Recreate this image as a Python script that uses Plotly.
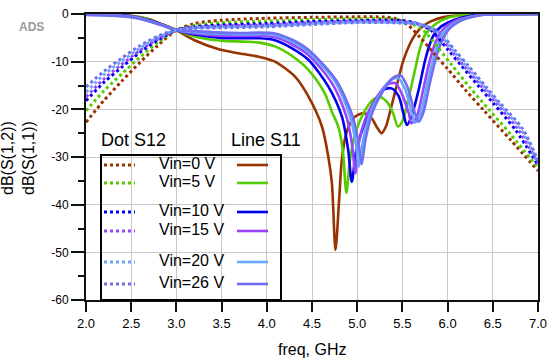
import plotly.graph_objects as go

# ---------------- data ----------------
vin_labels = ["Vin=0 V", "Vin=5 V", "Vin=10 V", "Vin=15 V", "Vin=20 V", "Vin=26 V"]
colors = ["#993300", "#55CC00", "#0000EE", "#9944FF", "#66A6FF", "#6F6FF0"]

# S11 (solid lines), dB
s11_f_0 = [2.0, 2.3, 2.5, 2.7, 2.85, 3.0, 3.2, 3.47, 3.7, 3.92, 4.09, 4.31, 4.46, 4.61, 4.68, 4.72, 4.76, 4.8, 4.83, 4.88, 4.96, 5.07, 5.16, 5.22, 5.27, 5.32, 5.37, 5.44, 5.51, 5.58, 5.65, 5.73, 5.82, 5.97, 6.2, 6.5, 7.0]
s11_db_0 = [0, -0.1, -0.35, -1.1, -2.2, -3.4, -5.5, -7.4, -8.3, -9.0, -10.0, -13.1, -17.3, -23.6, -29.9, -35.5, -49.5, -39, -30.6, -25, -21.8, -20.8, -21.9, -23.8, -25, -23.5, -20, -14.8, -9.8, -6.4, -4.1, -2.5, -1.5, -0.6, -0.2, -0.05, 0]

s11_f_5 = [2.0, 2.3, 2.5, 2.7, 2.85, 3.0, 3.2, 3.5, 3.75, 3.92, 4.09, 4.28, 4.46, 4.64, 4.72, 4.79, 4.84, 4.88, 4.92, 4.98, 5.07, 5.17, 5.25, 5.34, 5.4, 5.45, 5.5, 5.57, 5.64, 5.69, 5.75, 5.86, 6.0, 6.2, 6.5, 7.0]
s11_db_5 = [-0.05, -0.15, -0.45, -1.2, -2.3, -3.4, -4.7, -5.6, -5.8, -6.0, -6.8, -8.8, -11.7, -16.6, -20.5, -23.6, -28.5, -37.5, -30.6, -25, -20.8, -18.1, -17.4, -18.7, -21, -23.6, -22.5, -17.5, -11.7, -7.5, -4.4, -2.2, -0.8, -0.2, -0.05, 0]

s11_f_10 = [2.0, 2.3, 2.5, 2.7, 2.85, 3.0, 3.2, 3.5, 3.75, 3.92, 4.09, 4.28, 4.46, 4.68, 4.83, 4.9, 4.94, 4.99, 5.07, 5.18, 5.29, 5.38, 5.46, 5.51, 5.55, 5.6, 5.68, 5.75, 5.8, 5.85, 5.93, 6.08, 6.27, 6.5, 7.0]
s11_db_10 = [-0.1, -0.2, -0.5, -1.3, -2.3, -3.4, -4.3, -5.0, -5.1, -5.1, -5.5, -7.2, -9.6, -15.2, -21.5, -28.5, -35.2, -28.5, -23.6, -18.7, -15.9, -15.6, -17.3, -20.8, -23.3, -21.5, -15.9, -9.8, -6.5, -4.3, -2.6, -1.2, -0.3, -0.05, 0]

s11_f_15 = [2.0, 2.3, 2.5, 2.7, 2.85, 3.0, 3.2, 3.5, 3.75, 3.92, 4.09, 4.28, 4.46, 4.72, 4.88, 4.94, 4.98, 5.01, 5.1, 5.21, 5.32, 5.42, 5.49, 5.57, 5.6, 5.66, 5.73, 5.8, 5.87, 5.96, 6.1, 6.3, 6.5, 7.0]
s11_db_15 = [-0.1, -0.25, -0.55, -1.4, -2.35, -3.4, -4.1, -4.6, -4.6, -4.6, -4.9, -6.4, -8.6, -14.5, -21.5, -27, -33.4, -27.8, -21.5, -17.7, -14.9, -14.5, -16.6, -20.8, -22.9, -21.5, -15.9, -10, -5.8, -3.0, -1.3, -0.35, -0.05, 0]

s11_f_20 = [2.0, 2.3, 2.5, 2.7, 2.85, 3.0, 3.2, 3.5, 3.75, 3.92, 4.09, 4.28, 4.46, 4.75, 4.92, 4.98, 5.02, 5.06, 5.14, 5.25, 5.36, 5.45, 5.53, 5.6, 5.64, 5.7, 5.77, 5.84, 5.91, 6.0, 6.14, 6.32, 6.5, 7.0]
s11_db_20 = [-0.15, -0.3, -0.6, -1.45, -2.4, -3.4, -3.8, -4.2, -4.3, -4.2, -4.4, -5.8, -8.0, -14, -21.5, -26.5, -32, -27, -21, -16.8, -14.0, -13.4, -15.8, -20.5, -22.8, -21, -15, -9.5, -5.6, -3.0, -1.3, -0.35, -0.05, 0]

s11_f_26 = [2.0, 2.3, 2.5, 2.7, 2.85, 3.0, 3.2, 3.5, 3.75, 3.92, 4.09, 4.28, 4.46, 4.77, 4.95, 5.01, 5.05, 5.09, 5.17, 5.28, 5.39, 5.48, 5.56, 5.63, 5.68, 5.73, 5.8, 5.87, 5.94, 6.03, 6.17, 6.35, 6.55, 7.0]
s11_db_26 = [-0.2, -0.35, -0.7, -1.55, -2.45, -3.4, -3.6, -3.9, -4.0, -3.9, -4.1, -5.4, -7.5, -14, -21.5, -26.5, -31.5, -26.5, -20.5, -16.3, -13.5, -12.9, -15.5, -20.3, -22.6, -20.8, -14.8, -9.3, -5.5, -2.9, -1.2, -0.3, -0.05, 0]

# S12 (dotted lines), dB
s12_f_0 = [2.0, 2.2, 2.4, 2.6, 2.8, 3.0, 3.2, 3.5, 4.0, 4.5, 5.0, 5.3, 5.43, 5.56, 5.7, 5.85, 6.0, 6.2, 6.4, 6.7, 7.0]
s12_db_0 = [-22.7, -18.1, -14.0, -10.1, -6.5, -3.4, -2.0, -1.3, -0.9, -0.7, -0.6, -0.65, -1.0, -2.3, -5.0, -8.3, -11.5, -16.0, -20.2, -26.5, -32.9]

s12_f_5 = [2.0, 2.2, 2.4, 2.6, 2.8, 3.0, 3.2, 3.5, 4.0, 4.5, 5.0, 5.4, 5.55, 5.74, 5.9, 6.05, 6.25, 6.45, 6.7, 7.0]
s12_db_5 = [-20.3, -16.1, -12.5, -9.0, -5.9, -3.4, -2.4, -1.8, -1.5, -1.2, -1.0, -1.05, -1.6, -3.6, -7.2, -10.8, -15.5, -19.9, -25.3, -32.3]

s12_f_10 = [2.0, 2.2, 2.4, 2.6, 2.8, 3.0, 3.2, 3.5, 4.0, 4.5, 5.0, 5.5, 5.65, 5.82, 6.0, 6.15, 6.35, 6.5, 6.75, 7.0]
s12_db_10 = [-18.2, -14.3, -11.1, -8.0, -5.4, -3.4, -2.7, -2.3, -2.0, -1.6, -1.4, -1.4, -1.9, -3.5, -7.4, -10.8, -15.3, -18.6, -24.3, -31.7]

s12_f_15 = [2.0, 2.2, 2.4, 2.6, 2.8, 3.0, 3.2, 3.5, 4.0, 4.5, 5.0, 5.5, 5.68, 5.85, 6.03, 6.18, 6.38, 6.53, 6.78, 7.0]
s12_db_15 = [-17.4, -13.6, -10.5, -7.6, -5.2, -3.4, -2.8, -2.5, -2.3, -1.8, -1.5, -1.6, -2.1, -3.6, -7.5, -10.9, -15.3, -18.6, -24.2, -31.4]

s12_f_20 = [2.0, 2.2, 2.4, 2.6, 2.8, 3.0, 3.2, 3.5, 4.0, 4.5, 5.0, 5.5, 5.7, 5.88, 6.06, 6.21, 6.41, 6.56, 6.81, 7.0]
s12_db_20 = [-16.4, -12.7, -9.8, -7.1, -4.9, -3.4, -2.9, -2.7, -2.5, -2.0, -1.7, -1.8, -2.2, -3.7, -7.6, -11.0, -15.4, -18.7, -24.2, -31.1]

s12_f_26 = [2.0, 2.2, 2.4, 2.6, 2.8, 3.0, 3.2, 3.5, 4.0, 4.5, 5.0, 5.5, 5.72, 5.9, 6.08, 6.24, 6.43, 6.58, 6.83, 7.0]
s12_db_26 = [-15.3, -12.0, -9.2, -6.6, -4.6, -3.3, -3.0, -2.9, -2.7, -2.2, -1.8, -1.9, -2.3, -3.7, -7.6, -11.1, -15.4, -18.7, -24.1, -30.8]

x_ticks = [2.0, 2.5, 3.0, 3.5, 4.0, 4.5, 5.0, 5.5, 6.0, 6.5, 7.0]
y_ticks = [0, -10, -20, -30, -40, -50, -60]

s11_f = [s11_f_0, s11_f_5, s11_f_10, s11_f_15, s11_f_20, s11_f_26]
s11_db = [s11_db_0, s11_db_5, s11_db_10, s11_db_15, s11_db_20, s11_db_26]
s12_f = [s12_f_0, s12_f_5, s12_f_10, s12_f_15, s12_f_20, s12_f_26]
s12_db = [s12_db_0, s12_db_5, s12_db_10, s12_db_15, s12_db_20, s12_db_26]

FONT = "Liberation Sans, Arial, sans-serif"

fig = go.Figure()
for i in range(6):
    fig.add_trace(go.Scatter(x=s11_f[i], y=s11_db[i], mode="lines", name=vin_labels[i] + " S11",
                             line=dict(color=colors[i], width=2.6, shape="spline", smoothing=0.8),
                             showlegend=False))
for i in range(6):
    fig.add_trace(go.Scatter(x=s12_f[i], y=s12_db[i], mode="lines", name=vin_labels[i] + " S12",
                             line=dict(color=colors[i], width=3, dash="dot", shape="spline", smoothing=0.8),
                             showlegend=False))

# plot area in pixels
L, R, T, B = 86, 538, 14, 300
W, H = 550, 361


def px(xp):
    return (xp - L) / (R - L)


def py(yp):
    return (B - yp) / (B - T)


shapes = []
annotations = []

# legend box
shapes.append(dict(type="rect", xref="paper", yref="paper", x0=px(101), x1=px(281), y0=py(300), y1=py(155),
                   line=dict(color="black", width=2), fillcolor="rgba(0,0,0,0)"))
annotations.append(dict(text="Dot S12", xref="paper", yref="paper", x=px(133), y=py(140), showarrow=False,
                        font=dict(size=18, color="black", family=FONT), xanchor="center", yanchor="middle"))
annotations.append(dict(text="Line S11", xref="paper", yref="paper", x=px(266), y=py(140), showarrow=False,
                        font=dict(size=18, color="black", family=FONT), xanchor="center", yanchor="middle"))
rows = [165, 183, 212, 231, 262, 284]
for i in range(6):
    yy = rows[i]
    shapes.append(dict(type="line", xref="paper", yref="paper", x0=px(104), x1=px(135), y0=py(yy), y1=py(yy),
                       line=dict(color=colors[i], width=3, dash="dot")))
    shapes.append(dict(type="line", xref="paper", yref="paper", x0=px(237), x1=px(268), y0=py(yy), y1=py(yy),
                       line=dict(color=colors[i], width=2.6)))
    annotations.append(dict(text=vin_labels[i], xref="paper", yref="paper", x=px(157), y=py(yy - 1.5),
                            showarrow=False, xanchor="left", yanchor="middle",
                            font=dict(size=16, color="black", family=FONT)))

# axis titles and ADS tag
annotations.append(dict(text="dB(S(1,2))<br>dB(S(1,1))", xref="paper", yref="paper", x=px(18), y=py(158),
                        showarrow=False, textangle=-90, xanchor="center", yanchor="middle",
                        font=dict(size=16, color="black", family=FONT)))
annotations.append(dict(text="freq, GHz", xref="paper", yref="paper", x=0.5, y=py(349),
                        showarrow=False, xanchor="center", yanchor="middle",
                        font=dict(size=16, color="black", family=FONT)))
annotations.append(dict(text="<b>ADS</b>", xref="paper", yref="paper", x=px(31), y=py(27),
                        showarrow=False, xanchor="center", yanchor="middle",
                        font=dict(size=12, color="#9a9a9a", family=FONT)))

fig.update_layout(
    width=W, height=H,
    margin=dict(l=L, r=W - R, t=T, b=H - B, pad=0, autoexpand=False),
    paper_bgcolor="white", plot_bgcolor="white",
    shapes=shapes, annotations=annotations,
    showlegend=False,
    font=dict(family=FONT, color="black"),
)
fig.update_xaxes(range=[2.0, 7.0], tickvals=x_ticks, ticktext=["%.1f" % v for v in x_ticks],
                 automargin=False,
                 showgrid=True, gridcolor="#c8c8c8", gridwidth=1,
                 showline=True, linecolor="#111", linewidth=2, mirror=True,
                 ticks="outside", ticklen=10, tickwidth=1.5, tickcolor="#111",
                 tickfont=dict(size=13, family=FONT, color="black"), zeroline=False)
fig.update_yaxes(range=[-60, 0], tickvals=y_ticks, ticktext=[str(v) for v in y_ticks],
                 automargin=False,
                 showgrid=True, gridcolor="#c8c8c8", gridwidth=1,
                 showline=True, linecolor="#111", linewidth=2, mirror=True,
                 ticks="outside", ticklen=13, tickwidth=1.5, tickcolor="#111",
                 minor=dict(tickvals=[-5, -15, -25, -35, -45, -55], ticks="outside", ticklen=6,
                            tickwidth=1.5, tickcolor="#111", showgrid=False),
                 tickfont=dict(size=12, family=FONT, color="black"), zeroline=False)

fig.write_html("out.html", config={"displayModeBar": False},
               post_script="document.body.style.margin='0';document.body.style.overflow='hidden';")
